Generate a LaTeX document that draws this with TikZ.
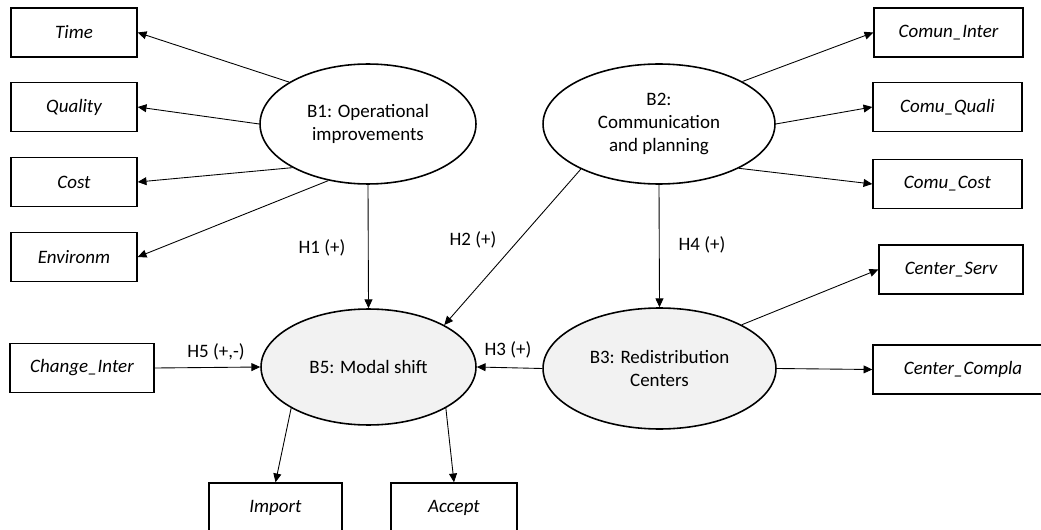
\documentclass[tikz,border=0pt]{standalone}
\usepackage{fontspec}
\setmainfont{Carlito}
\usetikzlibrary{arrows.meta,shapes.geometric}

\begin{document}
\begin{tikzpicture}[x=0.02cm,y=-0.02cm,
        every node/.style={font=\fontsize{10.8}{13}\selectfont},
        ind/.style={draw,line width=.8pt,inner sep=0pt,minimum height=.98cm,font=\fontsize{10.8}{13}\selectfont\itshape},
        construct/.style={draw,ellipse,line width=.9pt,inner sep=0pt,align=center},
        link/.style={line width=.5pt,-{Triangle[length=5pt,width=4.5pt]}}]
    \clip (0,0) rectangle (1041,530);
    % indicators of B1
    \node[ind,minimum width=2.52cm] (time) at (74,32.5) {Time};
    \node[ind,minimum width=2.52cm] (quality) at (74,107) {Quality};
    \node[ind,minimum width=2.52cm] (cost) at (74,182) {Cost};
    \node[ind,minimum width=2.52cm] (environm) at (74,257) {Environm};
    % indicators of B2 and B3
    \node[ind,minimum width=2.98cm] (cominter) at (948.5,32.5) {Comun\_Inter};
    \node[ind,minimum width=2.98cm] (comquali) at (947.5,107) {Comu\_Quali};
    \node[ind,minimum width=2.98cm] (comcost) at (947.5,184) {Comu\_Cost};
    \node[ind,minimum width=2.88cm] (censerv) at (951,269.5) {Center\_Serv};
    \node[ind,minimum width=3.6cm] (cencompla) at (963,369.5) {Center\_Compla};
    % indicators of B5
    \node[ind,minimum width=2.88cm] (change) at (82,368) {Change\_Inter};
    \node[ind,minimum width=2.66cm] (import) at (275.5,507.5) {Import};
    \node[ind,minimum width=2.52cm] (accept) at (454,507.5) {Accept};
    % constructs
    \node[construct,minimum width=4.32cm,minimum height=2.4cm] (b1) at (368,124) {B1: Operational\\improvements};
    \node[construct,minimum width=4.64cm,minimum height=2.4cm] (b2) at (659,124) {B2:\\Communication\\and planning};
    \node[construct,fill=black!5,minimum width=4.66cm,minimum height=2.42cm] (b3) at (659.5,368.5) {B3: Redistribution\\Centers};
    \node[construct,fill=black!5,minimum width=4.3cm,minimum height=2.32cm] (b5) at (368.5,367) {B5: Modal shift};
    % hypotheses
    \node (h1) at (322,248) {H1 (+)};
    \node (h2) at (473,240) {H2 (+)};
    \node (h3) at (508,350) {H3 (+)};
    \node (h4) at (702,245) {H4 (+)};
    \node (h5) at (216,352) {H5 (+,-)};
    \draw[link] (b1.152) -- (time.east);
    \draw[link] (b1.180) -- (quality.east);
    \draw[link] (b1.210) -- (cost.east);
    \draw[link] (b1.235) -- (environm.east);
    \draw[link] (b2.27) -- (cominter.west);
    \draw[link] (b2.0) -- (comquali.west);
    \draw[link] (b2.331) -- (comcost.west);
    \draw[link] (b3.28) -- (censerv.west);
    \draw[link] (b3.east) -- (cencompla.west);
    \draw[link] (b1.south) -- (b5.north);
    \draw[link] (b2.210) -- (b5.29);
    \draw[link] (b2.south) -- (b3.north);
    \draw[link] (b3.west) -- (b5.east);
    \draw[link] (change.east) -- (b5.west);
    \draw[link] (b5.208) -- (import.north);
    \draw[link] (b5.332) -- (accept.north);
\end{tikzpicture}
\end{document}
